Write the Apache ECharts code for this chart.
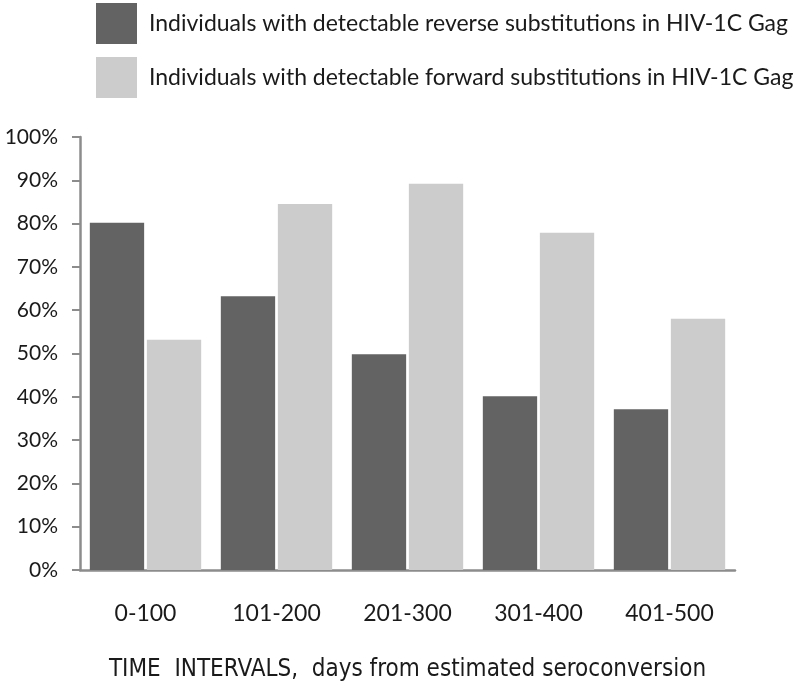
<!DOCTYPE html>
<html>
<head>
<meta charset="utf-8">
<script src="https://cdn.jsdelivr.net/npm/echarts@6/dist/echarts.min.js"></script>
<style>
  html, body { margin: 0; padding: 0; background: #fff; }
  #chart { width: 800px; height: 687px; }
</style>
</head>
<body>
<div id="chart"></div>
<script>
// data
const categories = ['0-100', '101-200', '201-300', '301-400', '401-500']
const reverseName = 'Individuals with detectable reverse substitutions in HIV-1C Gag'
const forwardName = 'Individuals with detectable forward substitutions in HIV-1C Gag'
const reverseValues = [80.2, 63.2, 49.8, 40.1, 37.1]
const forwardValues = [53.2, 84.5, 89.2, 77.9, 58.0]
const yTicks = [0, 10, 20, 30, 40, 50, 60, 70, 80, 90, 100]

const axisColor = '#8c8c8c'
const textColor = '#1a1a1a'

const chart = echarts.init(document.getElementById('chart'))
chart.setOption({
  animation: false,
  color: ['#636363', '#cccccc'],
  legend: {
    orient: 'vertical',
    left: 96,
    top: 3,
    padding: 0,
    itemWidth: 41,
    itemHeight: 41,
    itemGap: 13,
    icon: 'rect',
    selectedMode: false,
    textStyle: {
      fontFamily: 'Lato',
      fontSize: 23,
      color: textColor,
      padding: [2, 0, 0, 7]
    },
    data: [reverseName, forwardName]
  },
  grid: {
    left: 80,
    right: 65,
    top: 137,
    bottom: 104,
    containLabel: false
  },
  xAxis: {
    type: 'category',
    data: categories,
    name: 'TIME  INTERVALS,  days from estimated seroconversion',
    nameLocation: 'middle',
    nameGap: 88,
    nameTextStyle: {
      fontFamily: '"DejaVu Sans Condensed", Roboto, sans-serif',
      fontSize: 24,
      color: textColor
    },
    axisLine: { lineStyle: { color: axisColor, width: 2.5 } },
    axisTick: { length: 8, lineStyle: { color: axisColor, width: 2 } },
    axisLabel: {
      margin: 32,
      fontFamily: 'Lato',
      fontSize: 23,
      color: textColor
    }
  },
  yAxis: {
    type: 'value',
    min: yTicks[0],
    max: yTicks[yTicks.length - 1],
    interval: 10,
    axisLine: { show: true, lineStyle: { color: axisColor, width: 2.5 } },
    axisTick: { show: true, length: 8, lineStyle: { color: axisColor, width: 2 } },
    splitLine: { show: false },
    axisLabel: {
      margin: 22,
      fontFamily: 'Lato',
      fontSize: 21,
      color: textColor,
      formatter: '{value}%'
    }
  },
  series: [
    {
      name: reverseName,
      type: 'bar',
      data: reverseValues,
      barGap: '5%',
      barCategoryGap: '15%'
    },
    {
      name: forwardName,
      type: 'bar',
      data: forwardValues
    }
  ]
})
</script>
</body>
</html>
